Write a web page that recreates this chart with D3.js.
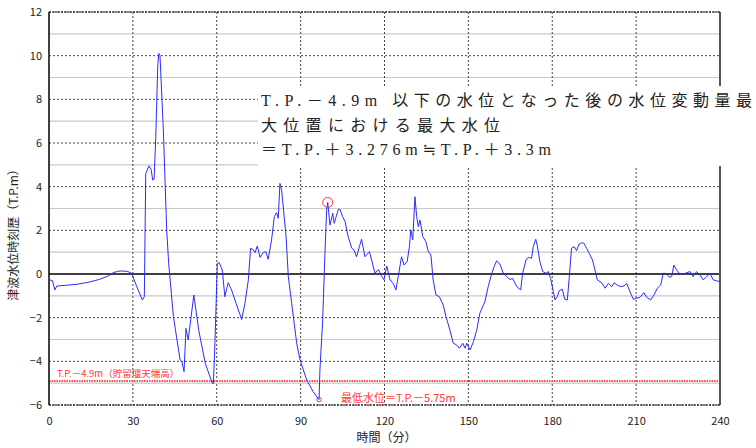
<!DOCTYPE html>
<html>
<head>
<meta charset="utf-8">
<script src="https://cdn.jsdelivr.net/npm/d3@7"></script>
<style>
  body { margin: 0; background: #fff; }
  svg { display: block; }
</style>
</head>
<body>
<div id="chart"></div>
<script>
// Time (minutes) and tsunami water level (T.P. m)
const times = [0, 1.2, 2.1, 2.8, 6, 10, 14, 18, 21, 23, 24.5, 26, 28, 29.5, 31.4, 33.4, 34.1, 34.6, 35.8, 36.5,
  37.1, 37.6, 38.2, 38.9, 39.3, 39.7, 40.9, 42.1, 42.8, 44.5, 46.9, 47.5, 48.3, 49.0, 49.8, 51.8, 53.6, 55.9, 58.4, 58.8,
  59.4, 60.2, 60.9, 62.0, 62.9, 64.1, 65.3, 66.9, 68.9, 70.1, 71.3, 72.1, 73.1, 73.7, 74.5, 75.5, 76.6, 77.6, 78.4, 79.6,
  80.6, 81.4, 82.0, 82.6, 83.2, 84.8, 85.6, 86.8, 88.6, 89.8, 92.2, 94.5, 96.3, 96.6, 96.9, 97.9, 98.7, 99.3, 99.7, 100.5,
  101.5, 102.0, 103.5, 104.1, 105.0, 105.9, 107.0, 108.3, 109.1, 110.0, 111.0, 111.8, 113.0, 114.6, 115.4, 116.6, 117.8, 119.0, 119.8, 120.8,
  122.0, 123.1, 124.1, 124.9, 126.1, 127.0, 128.1, 128.9, 129.4, 130.1, 130.9, 131.5, 132.1, 132.7, 133.7, 134.8, 135.7, 136.6, 137.4, 138.4,
  139.6, 141.0, 142.0, 143.4, 144.6, 145.8, 146.8, 148.0, 148.8, 149.4, 150.6, 151.8, 153.0, 154.1, 155.9, 157.1, 158.3, 159.2, 160.1, 161.3,
  162.5, 163.7, 164.9, 165.8, 167.3, 168.7, 169.4, 170.6, 171.4, 172.6, 173.2, 174.1, 174.6, 175.6, 176.6, 177.8, 178.6, 179.4, 180.4, 181.0,
  181.8, 182.5, 183.6, 184.5, 185.4, 186.1, 186.9, 187.8, 188.7, 189.6, 190.5, 191.3, 192.3, 193.2, 194.4, 195.3, 196.1, 197.7, 198.9, 200.1,
  201.3, 202.1, 203.1, 204.5, 205.7, 206.6, 207.8, 209.0, 210.2, 211.4, 212.8, 213.8, 215.2, 216.4, 217.6, 218.8, 219.7, 220.7, 221.9, 222.7,
  223.5, 224.5, 225.7, 226.9, 228.1, 229.3, 230.4, 231.6, 232.8, 234.0, 235.2, 236.4, 237.6, 238.8, 240];
const levels = [-0.27, -0.3, -0.73, -0.55, -0.52, -0.47, -0.38, -0.25, -0.1, 0.06, 0.12, 0.14, 0.12, 0.04, -0.58, -1.19, -1.04, 4.6, 4.95, 4.8,
  4.3, 4.34, 6.3, 9.55, 10.1, 10.0, 6.6, 2.0, 0.5, -1.95, -3.94, -4.0, -4.47, -2.49, -3.02, -0.96, -2.6, -4.09, -5.0, -5.02,
  -3.0, 0.49, 0.52, 0.18, -1.04, -0.4, -0.73, -1.34, -2.08, -1.34, -0.27, 1.18, 1.1, 0.98, 1.28, 0.76, 0.98, 1.02, 0.67, 1.56,
  2.63, 2.81, 2.55, 4.15, 3.85, 1.71, -0.12, -1.34, -3.17, -3.94, -4.86, -5.39, -5.72, -5.75, -4.4, -2.1, 0.95, 2.93, 3.276, 2.24,
  2.78, 2.32, 2.96, 2.96, 2.63, 2.4, 1.71, 1.18, 1.1, 0.79, 1.25, 1.59, 0.79, 1.02, 0.64, 0.03, 0.21, -0.12, -0.27, 0.37,
  -0.27, -0.43, -0.73, -0.12, 0.79, 0.41, 0.56, 1.25, 2.02, 1.56, 3.54, 2.63, 2.17, 2.47, 1.71, 1.48, 1.02, 0.87, -0.27, -0.96,
  -1.04, -1.42, -1.95, -2.57, -3.17, -3.25, -3.4, -3.17, -3.4, -3.17, -3.48, -3.1, -2.57, -1.8, -1.27, -0.58, 0.0, 0.34, 0.6, 0.45,
  0.03, -0.12, -0.25, -0.2, -0.58, -0.73, 0.03, 0.64, 0.76, 0.72, 1.25, 1.59, 1.33, 0.56, 0.11, 0.03, 0.11, -0.2, -0.81, -1.19,
  -1.04, -0.76, -0.7, -1.16, -1.19, -0.12, 1.18, 1.25, 1.07, 1.37, 1.43, 1.41, 1.18, 0.95, 0.64, 0.18, -0.27, -0.4, -0.65, -0.43,
  -0.58, -0.4, -0.5, -0.58, -0.55, -0.43, -0.81, -1.16, -1.11, -1.07, -0.86, -1.07, -1.19, -0.96, -0.65, -0.5, 0.03, 0.03, -0.15, -0.12,
  0.41, 0.18, 0.0, 0.0, 0.06, 0.11, -0.12, 0.11, -0.05, -0.27, -0.12, 0.03, -0.27, -0.31, -0.35];

const xTicks = [0, 30, 60, 90, 120, 150, 180, 210, 240];
const yTicks = [-6, -4, -2, 0, 2, 4, 6, 8, 10, 12];
const yMinorTicks = [-5, -3, -1, 1, 3, 5, 7, 9, 11];

const damLevel = -4.9;                          // 貯留堰天端高
const maxPoint = { t: 99.7, v: 3.276 };
const minPoint = { t: 96.6, v: -5.75 };

const annotationLines = [
  "T.P.－4.9m 以下の水位となった後の水位変動量最",
  "大位置における最大水位",
  "＝T.P.＋3.276m≒T.P.＋3.3m"
];

// Chart dimensions and margins
const W = 756, H = 448;
const margin = { top: 12, right: 36, bottom: 43, left: 49 };
const width = W - margin.left - margin.right;
const height = H - margin.top - margin.bottom;

const svg = d3.select("#chart").append("svg")
  .attr("width", W)
  .attr("height", H);

const g = svg.append("g")
  .attr("transform", `translate(${margin.left},${margin.top})`);

const x = d3.scaleLinear().domain([0, 240]).range([0, width]);
const y = d3.scaleLinear().domain([-6, 12]).range([height, 0]);

// minor horizontal grid (odd values)
g.selectAll(".minor").data(yMinorTicks).join("line")
  .attr("x1", 0).attr("x2", width)
  .attr("y1", d => y(d)).attr("y2", d => y(d))
  .attr("stroke", "#c8c8c8").attr("stroke-width", 1.2);

// major horizontal grid (even values)
g.selectAll(".major").data(yTicks.filter(d => d !== 0)).join("line")
  .attr("x1", 0).attr("x2", width)
  .attr("y1", d => y(d)).attr("y2", d => y(d))
  .attr("stroke", "#444").attr("stroke-width", 1)
  .attr("stroke-dasharray", "2,2");

// vertical grid
g.selectAll(".vgrid").data(xTicks.slice(1, -1)).join("line")
  .attr("x1", d => x(d)).attr("x2", d => x(d))
  .attr("y1", 0).attr("y2", height)
  .attr("stroke", "#444").attr("stroke-width", 1)
  .attr("stroke-dasharray", "2,2");

// zero line
g.append("line")
  .attr("x1", 0).attr("x2", width)
  .attr("y1", y(0)).attr("y2", y(0))
  .attr("stroke", "#000").attr("stroke-width", 1.5);

// dam crest level line
g.append("line")
  .attr("x1", 0).attr("x2", width)
  .attr("y1", y(damLevel)).attr("y2", y(damLevel))
  .attr("stroke", "#ff5050").attr("stroke-width", 2)
  .attr("stroke-dasharray", "1.5,1");

// borders
g.append("line").attr("x1", 0).attr("x2", 0).attr("y1", 0).attr("y2", height)
  .attr("stroke", "#000").attr("stroke-width", 1.5);
g.append("line").attr("x1", width).attr("x2", width).attr("y1", 0).attr("y2", height)
  .attr("stroke", "#555").attr("stroke-width", 2);
g.append("line").attr("x1", 0).attr("x2", width).attr("y1", height).attr("y2", height)
  .attr("stroke", "#000").attr("stroke-width", 1.2).attr("stroke-dasharray", "2,1");
g.append("line").attr("x1", 0).attr("x2", width).attr("y1", 0).attr("y2", 0)
  .attr("stroke", "#000").attr("stroke-width", 1.2).attr("stroke-dasharray", "2,1");

// water level line
const series = times.map((t, i) => ({ t, v: levels[i] }));
g.append("path")
  .datum(series)
  .attr("fill", "none")
  .attr("stroke", "#2b2bff")
  .attr("stroke-width", 1)
  .attr("d", d3.line().x(d => x(d.t)).y(d => y(d.v)));

// markers
g.append("circle")
  .attr("cx", x(maxPoint.t)).attr("cy", y(maxPoint.v)).attr("r", 5)
  .attr("fill", "none").attr("stroke", "#ff3030").attr("stroke-width", 1);
g.append("circle")
  .attr("cx", x(minPoint.t)).attr("cy", y(minPoint.v)).attr("r", 2.2)
  .attr("fill", "none").attr("stroke", "#ff3030").attr("stroke-width", 1);

// axes
const font = "'Noto Sans CJK JP', 'DejaVu Sans', sans-serif";
const yAxis = g.append("g")
  .call(d3.axisLeft(y).tickValues(yTicks).tickSize(0).tickPadding(7));
const xAxis = g.append("g")
  .attr("transform", `translate(0,${height})`)
  .call(d3.axisBottom(x).tickValues(xTicks).tickSize(0).tickPadding(12));
[yAxis, xAxis].forEach(a => {
  a.select(".domain").remove();
  a.selectAll("text")
    .style("font-family", font)
    .style("font-size", "11px")
    .attr("fill", "#222");
});

// red labels
g.append("text")
  .attr("x", 8).attr("y", y(damLevel) - 4)
  .attr("fill", "#ff3a3a")
  .style("font-family", font).style("font-size", "9.5px")
  .text("T.P.－4.9m（貯留堰天端高）");

g.append("text")
  .attr("x", x(minPoint.t) + 22).attr("y", y(minPoint.v) + 2)
  .attr("fill", "#ff3a3a")
  .style("font-family", font).style("font-size", "11px")
  .text("最低水位＝T.P.－5.75m");

// annotation box
svg.append("rect")
  .attr("x", 258).attr("y", 86).attr("width", W - 258).attr("height", 80)
  .attr("fill", "#fff");

const annWidths = [491, 239, 290];
svg.selectAll(".ann").data(annotationLines).join("text")
  .attr("x", 261)
  .attr("y", (d, i) => 106 + i * 24.5)
  .attr("textLength", (d, i) => annWidths[i])
  .attr("lengthAdjust", "spacing")
  .attr("fill", "#222")
  .style("font-family", "'Liberation Serif', 'DejaVu Serif', 'Noto Sans CJK JP', serif")
  .style("font-size", "16px")
  .text(d => d);

// axis titles
svg.append("text")
  .attr("x", margin.left + width / 2 + 2)
  .attr("y", 442)
  .attr("text-anchor", "middle")
  .style("font-family", font).style("font-size", "12px")
  .attr("fill", "#222")
  .text("時間（分）");

svg.append("text")
  .attr("transform", `translate(18,${232}) rotate(-90)`)
  .attr("text-anchor", "middle")
  .style("font-family", font).style("font-size", "12px")
  .attr("fill", "#222")
  .text("津波水位時刻歴（T.P.m）");
</script>
</body>
</html>
